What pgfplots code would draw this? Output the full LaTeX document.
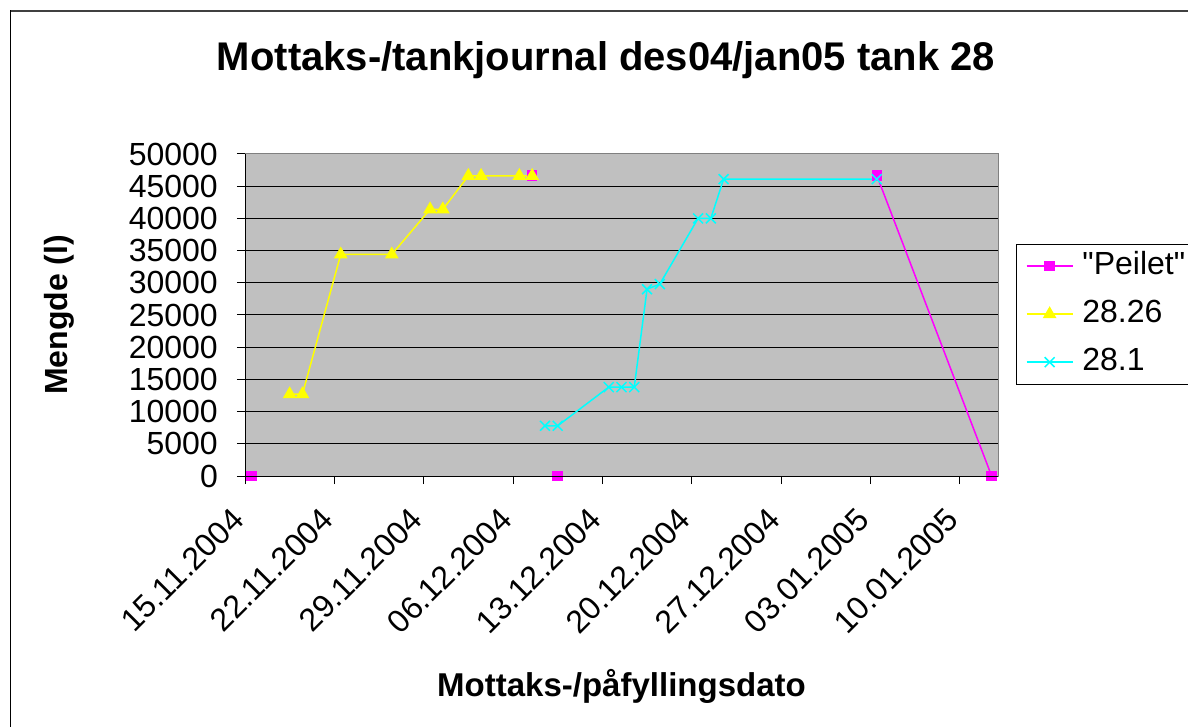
\documentclass[border=0pt]{standalone}
\usepackage{pgfplots}
\pgfplotsset{compat=1.18}
\usepackage{fontspec}
\setmainfont{Liberation Sans}
\newfontfamily\plainfont{Liberation Sans}
\definecolor{plotgray}{RGB}{192,192,192}
\definecolor{peilet}{RGB}{255,0,255}
\definecolor{yel}{RGB}{255,255,0}
\definecolor{cyn}{RGB}{0,255,255}
\begin{document}
\begin{tikzpicture}
\useasboundingbox (0,0) rectangle (1188bp,727bp);
\fill[white] (0,0) rectangle (1188bp,727bp);
\draw[black, line width=1.5bp] (10.5bp,0) -- (10.5bp,716.5bp);
\draw[black!75, line width=2bp] (10.5bp,716bp) -- (1188bp,716bp);
\begin{axis}[
  at={(245bp,251bp)}, anchor=south west,
  width=753bp, height=322bp, scale only axis,
  xmin=0, xmax=59, ymin=0, ymax=50000,
  axis background/.style={fill=plotgray},
  axis line style={draw=black!50, line width=1bp},
  xtick={0,7,...,56},
  xticklabels={15.11.2004,22.11.2004,29.11.2004,06.12.2004,13.12.2004,20.12.2004,27.12.2004,03.01.2005,10.01.2005},
  ytick={0,5000,...,50000},
  scaled y ticks=false,
  /pgf/number format/.cd, fixed, 1000 sep={}, assume math mode=true, /pgfplots/.cd,
  tick align=outside,
  major tick length=8bp,
  tick style={black, line width=1bp},
  xtick pos=bottom, ytick pos=left,
  ymajorgrids, grid style={black, line width=1bp},
  tick label style={font=\fontsize{32bp}{36bp}\selectfont},
  yticklabel style={anchor=east, inner sep=0pt, xshift=-19bp},
  xticklabel style={xshift=-7bp, rotate=45, anchor=east, inner sep=0pt},
  xticklabel shift={30bp},
  title={Mottaks-/tankjournal des04/jan05 tank 28},
  title style={at={(0.4794,1.242)}, anchor=base, inner sep=0pt, font=\fontsize{40bp}{44bp}\selectfont\bfseries},
  xlabel={Mottaks-/påfyllingsdato},
  xlabel style={at={(0.5,-0.686)}, anchor=base, inner sep=0pt, font=\fontsize{33bp}{36bp}\selectfont\bfseries},
  ylabel={Mengde (l)},
  ylabel style={at={(-0.247,0.5)}, anchor=center, rotate=0, inner sep=0pt, font=\fontsize{32bp}{36bp}\selectfont\bfseries},
  legend style={at={(1.0235,0.7205)}, anchor=north west, draw=black, fill=white,
    font=\plainfont\fontsize{32bp}{36bp}\selectfont, inner xsep=4bp, inner ysep=6bp,
    row sep=16bp, column sep=9bp,
    nodes={inner sep=0pt, text height=24bp, text depth=8bp}},
  legend cell align=left,
  legend image code/.code={\path (0bp,0bp); \draw[mark repeat=2,mark phase=2,#1] plot coordinates {(6bp,0bp) (29bp,0bp) (52bp,0bp)};},
  unbounded coords=jump,
  extra description/.code={\draw[black, line width=1bp] (rel axis cs:0,1) -- (rel axis cs:0,0) -- (rel axis cs:1,0);},
]
\addplot[color=peilet, line width=1.5bp, mark=square*, mark size=4.5bp, mark options={solid, fill=peilet, draw=peilet}]
  coordinates {(0.5,0) (11,nan) (22.5,46700) (23,nan) (24.5,0) (30,nan) (49.5,46700) (58.5,0)};
\addlegendentry{{\plainfont"Peilet"}}
\addplot[color=yel, line width=1.5bp, mark=triangle*, mark size=6.5bp, mark options={solid, fill=yel, draw=yel}]
  coordinates {(3.5,12700) (4.5,12700) (7.5,34400) (11.5,34400) (14.5,41400) (15.5,41400) (17.5,46600) (18.5,46600) (21.5,46600) (22.5,46600)};
\addlegendentry{28.26}
\addplot[color=cyn, line width=1.5bp, mark=x, mark size=7bp, mark options={solid, draw=cyn, line width=1.5bp}]
  coordinates {(23.5,7800) (24.5,7800) (28.5,13800) (29.5,13800) (30.5,13800) (31.5,29000) (32.5,29800) (35.5,40000) (36.5,40000) (37.5,46100) (49.5,46100)};
\addlegendentry{28.1}
\end{axis}
\end{tikzpicture}
\end{document}
